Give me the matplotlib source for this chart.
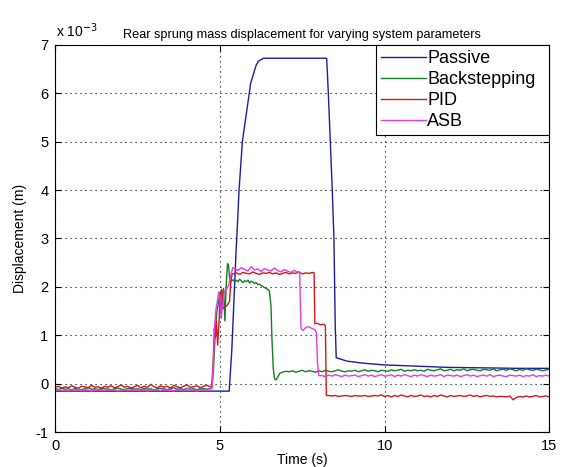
import numpy as np
import matplotlib
matplotlib.use("Agg")
import matplotlib.pyplot as plt

plt.rcParams['font.family'] = ['Liberation Sans', 'DejaVu Sans']
plt.rcParams['axes.unicode_minus'] = False

# ---------------- data (displacement in units of 1e-3 m) ----------------
SERIES = ["Passive", "Backstepping", "PID", "ASB"]

# Passive
passive_t = [0.0, 5.28, 5.36, 5.49, 5.51, 5.58, 5.68, 5.89, 5.93, 6.10, 6.17, 6.32,
             8.24, 8.29, 8.41, 8.46, 8.50, 8.53, 8.85, 9.3, 10.0, 10.8, 11.9, 13.0, 14.0, 15.0]
passive_v = [-0.15, -0.15, 0.70, 2.76, 3.00, 4.00, 5.00, 6.00, 6.20, 6.58, 6.66, 6.72,
             6.72, 6.00, 4.00, 3.00, 1.20, 0.54, 0.47, 0.43, 0.39, 0.37, 0.34, 0.33, 0.32, 0.32]

# common sampling step of the noisy flat segments
STEP = 0.1
BASE_START = 0.0

# Backstepping
bs_base = [-0.10, -0.12, -0.09, -0.11, -0.10, -0.13, -0.09, -0.11, -0.12, -0.10,
           -0.08, -0.11, -0.10, -0.12, -0.09, -0.10, -0.11, -0.13, -0.10, -0.09,
           -0.11, -0.12, -0.10, -0.08, -0.11, -0.10, -0.12, -0.09, -0.11, -0.10,
           -0.13, -0.10, -0.09, -0.11, -0.12, -0.10, -0.08, -0.11, -0.10, -0.12,
           -0.09, -0.11, -0.10, -0.13, -0.09, -0.10, -0.11, -0.10]
bs_trans_t = [4.75, 4.80, 4.85, 4.90, 4.95, 5.00, 5.03, 5.07, 5.11, 5.15, 5.19, 5.23, 5.26, 5.30,
              5.35, 5.40, 5.45, 5.50, 5.55, 5.60, 5.65, 5.70, 5.75, 5.80, 5.85, 5.90, 5.95,
              6.00, 6.05, 6.10, 6.15, 6.20, 6.25, 6.30, 6.35, 6.40, 6.45,
              6.50, 6.55, 6.58, 6.62, 6.66, 6.70, 6.76, 6.82]
bs_trans_v = [-0.08, 0.25, 0.95, 1.45, 1.65, 1.88, 1.45, 1.80, 1.97, 1.30, 2.05, 2.48, 2.45, 2.12,
              2.12, 2.15, 2.10, 2.14, 2.11, 2.16, 2.12, 2.09, 2.13, 2.11, 2.14, 2.08, 2.12,
              2.10, 2.07, 2.09, 2.05, 2.06, 2.03, 2.01, 1.99, 1.97, 1.95,
              1.92, 1.60, 0.90, 0.30, 0.10, 0.08, 0.15, 0.22]
BS_TAIL_START = 6.9
bs_tail = [0.24, 0.26, 0.25, 0.27, 0.24, 0.26, 0.28, 0.25, 0.27, 0.26,
           0.24, 0.27, 0.25, 0.28, 0.26, 0.25, 0.27, 0.29, 0.26, 0.25,
           0.27, 0.26, 0.28, 0.25, 0.27, 0.29, 0.26, 0.28, 0.27, 0.25,
           0.28, 0.27, 0.26, 0.29, 0.27, 0.28, 0.30, 0.26, 0.28, 0.27,
           0.29, 0.27, 0.28, 0.26, 0.30, 0.28, 0.27, 0.29, 0.31, 0.27,
           0.28, 0.30, 0.27, 0.29, 0.28, 0.31, 0.27, 0.29, 0.30, 0.28,
           0.27, 0.30, 0.29, 0.28, 0.31, 0.27, 0.29, 0.30, 0.28, 0.31,
           0.29, 0.27, 0.30, 0.28, 0.31, 0.29, 0.28, 0.30, 0.29, 0.27,
           0.29, 0.30]

# PID
pid_base = [-0.07, -0.05, -0.09, -0.06, -0.08, -0.04, -0.07, -0.09, -0.05, -0.06,
            -0.08, -0.03, -0.07, -0.06, -0.09, -0.05, -0.07, -0.04, -0.08, -0.06,
            -0.02, -0.07, -0.05, -0.09, -0.06, -0.03, -0.08, -0.05, -0.07, -0.01,
            -0.06, -0.08, -0.04, -0.07, -0.05, -0.09, -0.03, -0.06, -0.08, -0.05,
            -0.02, -0.07, -0.06, -0.04, -0.08, -0.05, -0.03, -0.06]
pid_trans_t = [4.75, 4.79, 4.83, 4.86, 4.89, 4.93, 4.97, 5.01, 5.05, 5.09, 5.14, 5.22, 5.29, 5.33, 5.37,
               5.4, 5.5, 5.6, 5.7, 5.8, 5.9, 6.0, 6.1, 6.2, 6.3, 6.4, 6.5, 6.6, 6.7, 6.8,
               6.9, 7.0, 7.1, 7.2, 7.3, 7.4, 7.5, 7.6, 7.7, 7.8,
               7.86, 7.88, 7.95, 8.05, 8.15, 8.20, 8.23]
pid_trans_v = [-0.05, 0.40, 1.15, 0.95, 1.30, 0.80, 1.25, 1.85, 1.95, 1.55, 1.58, 1.62, 1.70, 2.10, 2.27,
               2.27, 2.29, 2.26, 2.30, 2.28, 2.27, 2.31, 2.28, 2.26, 2.29, 2.28, 2.30, 2.27, 2.29, 2.26,
               2.28, 2.30, 2.27, 2.29, 2.28, 2.31, 2.27, 2.29, 2.28, 2.30,
               2.29, 1.24, 1.25, 1.22, 1.23, 1.20, -0.24]
PID_TAIL_START = 8.3
pid_tail = [-0.24, -0.25, -0.24, -0.26, -0.25, -0.24, -0.25, -0.26, -0.24, -0.25,
            -0.25, -0.24, -0.26, -0.25, -0.24, -0.25, -0.23, -0.26, -0.24, -0.27,
            -0.24, -0.26, -0.23, -0.25, -0.27, -0.24, -0.26, -0.25, -0.23, -0.26,
            -0.25, -0.27, -0.24, -0.26, -0.23, -0.25, -0.27, -0.24, -0.26, -0.25,
            -0.24, -0.26, -0.25, -0.23, -0.26, -0.24, -0.27, -0.25, -0.24, -0.26,
            -0.25, -0.27, -0.26, -0.26, -0.27, -0.25, -0.33, -0.28, -0.26, -0.27,
            -0.25, -0.27, -0.26, -0.24, -0.27, -0.26, -0.25, -0.27]

# ASB
asb_base = [-0.13, -0.11, -0.14, -0.12, -0.15, -0.12, -0.13, -0.10, -0.14, -0.12,
            -0.13, -0.15, -0.11, -0.13, -0.12, -0.14, -0.10, -0.13, -0.12, -0.15,
            -0.13, -0.11, -0.14, -0.12, -0.13, -0.10, -0.14, -0.12, -0.15, -0.11,
            -0.13, -0.12, -0.14, -0.09, -0.13, -0.12, -0.15, -0.11, -0.13, -0.14,
            -0.10, -0.12, -0.13, -0.15, -0.11, -0.12, -0.14, -0.10]
asb_trans_t = [4.76, 4.80, 4.84, 4.88, 4.92, 4.96, 5.00, 5.04, 5.08, 5.13, 5.20, 5.27, 5.33, 5.39,
               5.45, 5.55, 5.65, 5.75, 5.85, 5.95, 6.05, 6.15, 6.25, 6.35,
               6.45, 6.55, 6.65, 6.75, 6.85, 6.95, 7.05, 7.15, 7.25, 7.35,
               7.42, 7.46, 7.52, 7.60, 7.70, 7.80, 7.88, 7.93, 7.96, 8.00]
asb_trans_v = [-0.10, 0.45, 1.20, 1.55, 1.70, 1.90, 1.80, 1.35, 1.65, 1.90, 1.95, 2.05, 2.25, 2.40,
               2.38, 2.34, 2.40, 2.36, 2.33, 2.42, 2.35, 2.37, 2.32, 2.38,
               2.35, 2.33, 2.39, 2.34, 2.31, 2.36, 2.33, 2.30, 2.34, 2.31,
               2.30, 1.15, 1.10, 1.16, 1.18, 1.14, 1.12, 1.05, 0.45, 0.17]
ASB_TAIL_START = 8.1
asb_tail = [0.17, 0.15, 0.18, 0.16, 0.19, 0.17, 0.15, 0.18, 0.16, 0.17,
            0.18, 0.15, 0.17, 0.19, 0.16, 0.18, 0.15, 0.17, 0.19, 0.16,
            0.17, 0.19, 0.15, 0.18, 0.16, 0.19, 0.17, 0.15, 0.18, 0.16,
            0.19, 0.17, 0.15, 0.18, 0.16, 0.17, 0.19, 0.15, 0.18, 0.17,
            0.16, 0.18, 0.15, 0.17, 0.19, 0.16, 0.18, 0.15, 0.17, 0.18,
            0.16, 0.19, 0.15, 0.17, 0.18, 0.16, 0.15, 0.18, 0.17, 0.16,
            0.18, 0.15, 0.17, 0.16, 0.19, 0.15, 0.17, 0.16, 0.18, 0.16]

X_TICKS = [0, 5, 10, 15]
Y_TICKS = [-1, 0, 1, 2, 3, 4, 5, 6, 7]
TITLE = "Rear sprung mass displacement for varying system parameters"
XLABEL = "Time (s)"
YLABEL = "Displacement (m)"
COLORS = ['#1c1ca8', '#14801e', '#d01a1a', '#e63ae6']


def sampled(start, vals):
    return list(np.round(start + STEP * np.arange(len(vals)), 3))


def build(base, trans_t, trans_v, tail_start, tail):
    t = sampled(BASE_START, base) + list(trans_t) + sampled(tail_start, tail)
    v = list(base) + list(trans_v) + list(tail)
    return np.array(t), np.array(v)


curves = [
    (np.array(passive_t), np.array(passive_v)),
    build(bs_base, bs_trans_t, bs_trans_v, BS_TAIL_START, bs_tail),
    build(pid_base, pid_trans_t, pid_trans_v, PID_TAIL_START, pid_tail),
    build(asb_base, asb_trans_t, asb_trans_v, ASB_TAIL_START, asb_tail),
]

# ---------------- figure ----------------
fig = plt.figure(figsize=(5.64, 4.67), dpi=100)
ax = fig.add_axes([0.098, 0.0743, 0.876, 0.8300])

for (t, v), name, c in zip(curves, SERIES, COLORS):
    ax.plot(t, v, color=c, lw=1.0, label=name)

ax.set_xlim(0, 15)
ax.set_ylim(-1, 7)
ax.set_xticks(X_TICKS)
ax.set_yticks(Y_TICKS)
ax.grid(True, color='black', linestyle=(0, (1, 3.5)), linewidth=0.8)
ax.tick_params(direction='in', length=4, width=0.8, top=True, right=True,
               labelsize=10.5, pad=5, colors='black')
for s in ax.spines.values():
    s.set_linewidth(0.8)

ax.set_title(TITLE, fontsize=9.2, pad=5)
ax.set_xlabel(XLABEL, fontsize=10, labelpad=0)
ax.set_ylabel(YLABEL, fontsize=10, labelpad=6)
ax.text(0.002, 1.012, "x 10$^{-3}$", transform=ax.transAxes, fontsize=10,
        ha='left', va='bottom')

leg = ax.legend(loc='upper right', bbox_to_anchor=(0.649, 0.0, 0.351, 1.0),
                mode='expand', borderaxespad=0, fontsize=13, fancybox=False,
                framealpha=1, edgecolor='black', handlelength=2.45, handletextpad=0.1,
                labelspacing=0.22, borderpad=0.3)
leg.get_frame().set_linewidth(0.8)

fig.savefig("out.png", dpi=100, facecolor='white')
